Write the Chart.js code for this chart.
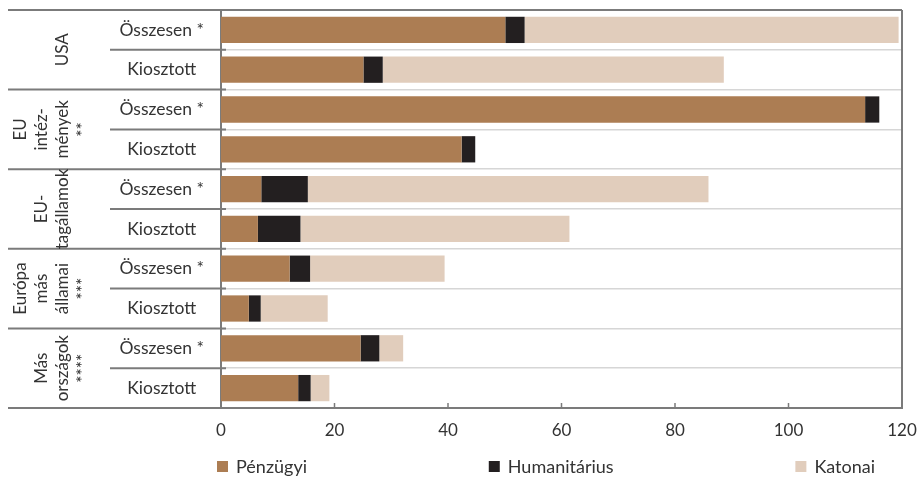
<!DOCTYPE html>
<html>
<head>
<meta charset="utf-8">
<script src="https://cdn.jsdelivr.net/npm/chart.js@4.4.0/dist/chart.umd.min.js"></script>
<style>
  html, body { margin: 0; padding: 0; background: #fff; }
  #wrap { width: 920px; height: 480px; }
</style>
</head>
<body>
<div id="wrap"><canvas id="aidChart"></canvas></div>
<script>
// rows, top to bottom
const categories = ['Összesen *', 'Kiosztott', 'Összesen *', 'Kiosztott', 'Összesen *',
                    'Kiosztott', 'Összesen *', 'Kiosztott', 'Összesen *', 'Kiosztott'];
// each group covers two rows, label lines read bottom-to-top
const groups = [
  ['USA'],
  ['EU', 'intéz-', 'mények', '**'],
  ['EU-', 'tagállamok'],
  ['Európa', 'más', 'államai', '***'],
  ['Más', 'országok', '****']
];
const penzugyi     = [50.1, 25.1, 113.5, 42.4, 7.1, 6.5, 12.1, 4.9, 24.6, 13.6];
const humanitarius = [3.4, 3.4, 2.5, 2.4, 8.2, 7.5, 3.6, 2.1, 3.3, 2.2];
const katonai      = [65.9, 60.1, 0, 0, 70.6, 47.4, 23.7, 11.8, 4.2, 3.3];
const xMin = 0, xMax = 120, xStep = 20;

const FONT = 'Lato, "Open Sans", sans-serif';
const TEXT = '#333333';
const DARK = '#7b7b7b';
const LIGHT = '#d6d6d6';

// extra drawing: label column frame, rotated group names, inner ticks, legend
const frame = {
  id: 'frame',
  afterDraw(chart) {
    const { ctx, chartArea: a, scales: { x, y } } = chart;
    const n = categories.length;
    const edge = i => i === 0 ? y.top : i === n ? y.bottom
      : (y.getPixelForValue(i - 1) + y.getPixelForValue(i)) / 2;

    ctx.save();
    ctx.strokeStyle = DARK;
    ctx.lineWidth = 2;
    for (let i = 0; i <= n; i++) {
      const yy = edge(i);
      ctx.beginPath();
      ctx.moveTo(i % 2 === 0 ? y.left : y.left + 102, yy);
      ctx.lineTo(i === 0 || i === n ? a.right : a.left + 5, yy);
      ctx.stroke();
    }
    ctx.beginPath();
    ctx.moveTo(a.right, a.top);
    ctx.lineTo(a.right, a.bottom);
    ctx.stroke();

    ctx.lineWidth = 1.5;
    x.ticks.forEach((t, i) => {
      const px = x.getPixelForTick(i);
      if (px <= a.left + 1 || px >= a.right - 1) return;
      ctx.beginPath();
      ctx.moveTo(px, a.bottom - 5);
      ctx.lineTo(px, a.bottom);
      ctx.stroke();
    });

    // group labels
    ctx.fillStyle = TEXT;
    ctx.font = `17px ${FONT}`;
    ctx.textAlign = 'center';
    ctx.textBaseline = 'middle';
    const slot = 21;
    groups.forEach((lines, g) => {
      const cy = (edge(g * 2) + edge(g * 2 + 2)) / 2;
      const first = Math.ceil((4 - lines.length) / 2);
      lines.forEach((line, k) => {
        ctx.save();
        ctx.translate(y.left + 13 + slot * (first + k), cy);
        ctx.rotate(-Math.PI / 2);
        ctx.fillText(line, 0, 0);
        ctx.restore();
      });
    });

    // legend, spread between the left of the plot and near its right end
    ctx.font = `18px ${FONT}`;
    ctx.textAlign = 'left';
    const ds = chart.data.datasets;
    const widths = ds.map(d => 19 + ctx.measureText(d.label).width);
    const gap = (a.right - 27 - (a.left - 4) - widths.reduce((s, w) => s + w, 0)) / (ds.length - 1);
    let lx = a.left - 4;
    const ly = chart.height - 13;
    ds.forEach((d, i) => {
      ctx.fillStyle = d.backgroundColor;
      ctx.fillRect(lx, ly - 6, 11, 11);
      ctx.fillStyle = TEXT;
      ctx.fillText(d.label, lx + 19, ly);
      lx += widths[i] + gap;
    });
    ctx.restore();
  }
};

new Chart(document.getElementById('aidChart'), {
  type: 'bar',
  data: {
    labels: categories,
    datasets: [
      { label: 'Pénzügyi', data: penzugyi, backgroundColor: '#ac7d53' },
      { label: 'Humanitárius', data: humanitarius, backgroundColor: '#231f20' },
      { label: 'Katonai', data: katonai, backgroundColor: '#e1cdbc' }
    ]
  },
  options: {
    indexAxis: 'y',
    responsive: true,
    maintainAspectRatio: false,
    animation: false,
    layout: { padding: { left: 8, top: 10, right: 18, bottom: 41 } },
    categoryPercentage: 1,
    barPercentage: 0.66,
    plugins: {
      legend: { display: false },
      tooltip: { enabled: false }
    },
    scales: {
      x: {
        stacked: true,
        min: xMin,
        max: xMax,
        ticks: { stepSize: xStep, padding: 12, color: TEXT, font: { family: FONT, size: 17 } },
        grid: { display: false, drawTicks: false },
        border: { display: true, color: DARK, width: 2 },
        afterFit(scale) { scale.paddingLeft = 0; scale.paddingRight = 0; scale.height = 31; }
      },
      y: {
        stacked: true,
        offset: true,
        ticks: { crossAlign: 'center', padding: 17, color: TEXT, font: { family: FONT, size: 17.5 } },
        grid: { offset: true, drawTicks: false, color: LIGHT, lineWidth: 1.5 },
        border: { display: true, color: DARK, width: 2 },
        afterFit(scale) { scale.width = 213; scale.paddingTop = 0; scale.paddingBottom = 0; }
      }
    }
  },
  plugins: [frame]
});
</script>
</body>
</html>
